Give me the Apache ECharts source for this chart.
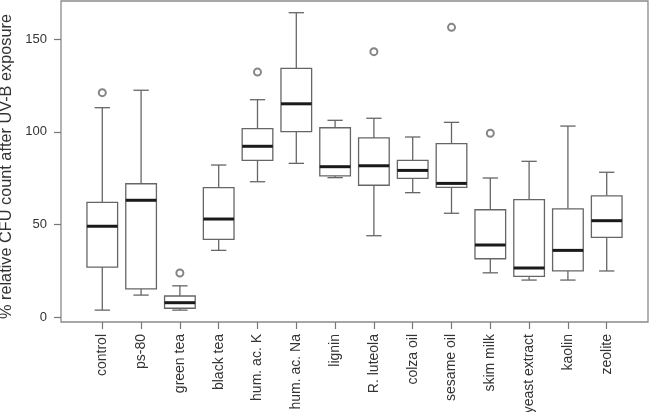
<!DOCTYPE html>
<html>
<head>
<meta charset="utf-8">
<script src="https://cdn.jsdelivr.net/npm/echarts@6/dist/echarts.min.js"></script>
<style>html,body{margin:0;padding:0;background:#fff}#c{width:650px;height:412px}</style>
</head>
<body>
<div id="c"></div>
<script>
const categories = ['control','ps-80','green tea','black tea','hum. ac. K','hum. ac. Na','lignin','R. luteola','colza oil','sesame oil','skim milk','yeast extract','kaolin','zeolite'];
const lowerWhisker = [3.9, 12.0, 3.9, 36.1, 73.1, 83.0, 75.3, 44.0, 67.2, 56.1, 24.0, 20.1, 20.1, 25.0];
const q1 =           [27.1, 15.4, 4.9, 42.0, 84.6, 100.1, 76.2, 71.2, 74.9, 70.1, 31.6, 22.1, 25.0, 43.1];
const median =       [49.1, 63.1, 7.9, 53.0, 92.2, 115.1, 81.2, 81.7, 79.2, 72.2, 39.0, 26.6, 36.1, 52.1];
const q3 =           [62.0, 72.0, 11.5, 69.9, 101.7, 134.2, 102.2, 96.7, 84.6, 93.6, 58.0, 63.4, 58.5, 65.5];
const upperWhisker = [113.0, 122.4, 17.0, 82.1, 117.3, 164.2, 106.2, 107.3, 97.2, 105.1, 75.1, 84.1, 103.1, 78.2];
const outlierCategory = [0, 2, 4, 7, 9, 10];
const outlierValue =    [121.1, 23.9, 132.2, 143.2, 156.3, 99.2];
const yTicks = [0, 50, 100, 150];
const yTitle = '% relative CFU count after UV-B exposure';

const boxData = categories.map((c, i) => [i, lowerWhisker[i], q1[i], median[i], q3[i], upperWhisker[i]]);
const outlierData = outlierCategory.map((c, i) => [c, outlierValue[i]]);
const catIdx = categories.map((c, i) => i);

const FONT = "'Liberation Sans', Arial, Helvetica, sans-serif";
const TXT = '#333';
const BOXC = '#666';

const chart = echarts.init(document.getElementById('c'), null, {renderer: 'canvas'});
chart.setOption({
  animation: false,
  backgroundColor: '#fff',
  grid: {left: 61, right: 2, top: 1, bottom: 90, containLabel: false, outerBoundsMode: 'none',
    show: true, borderColor: '#8a8a8a', borderWidth: 1.3, backgroundColor: 'transparent'},
  xAxis: {
    type: 'value', min: -1.064, max: 14.064,
    axisLine: {show: false, onZero: false},
    splitLine: {show: false},
    axisTick: {show: true, length: 7, lineStyle: {color: '#777', width: 1.2}, customValues: catIdx},
    axisLabel: {show: true, rotate: 90, margin: 12, fontSize: 14, color: TXT, fontFamily: FONT,
      customValues: catIdx, formatter: v => categories[Math.round(v)] || ''}
  },
  yAxis: {
    type: 'value', min: -2.5, max: 170.5,
    axisLine: {show: false, onZero: false},
    splitLine: {show: false},
    axisTick: {show: true, length: 7, lineStyle: {color: '#777', width: 1.2}, customValues: yTicks},
    axisLabel: {show: true, margin: 14, fontSize: 13, color: TXT, fontFamily: FONT, customValues: yTicks},
    name: yTitle, nameLocation: 'middle', nameRotate: 90, nameGap: 41,
    nameTextStyle: {fontSize: 16.3, color: TXT, fontFamily: FONT, padding: [0, 10, 0, 0]}
  },
  series: [
    {
      type: 'custom',
      data: boxData,
      encode: {x: 0, y: [1, 2, 3, 4, 5]},
      renderItem: function (params, api) {
        const x = api.value(0);
        const lo = api.coord([x, api.value(1)]);
        const b1 = api.coord([x, api.value(2)]);
        const md = api.coord([x, api.value(3)]);
        const b3 = api.coord([x, api.value(4)]);
        const hi = api.coord([x, api.value(5)]);
        const bw = api.size([0.79, 0])[0];
        const cw = bw / 2;
        const cx = lo[0];
        const ls = {stroke: BOXC, lineWidth: 1.3, fill: null};
        return {
          type: 'group',
          children: [
            {type: 'line', shape: {x1: cx, y1: lo[1], x2: cx, y2: b1[1]}, style: ls},
            {type: 'line', shape: {x1: cx, y1: b3[1], x2: cx, y2: hi[1]}, style: ls},
            {type: 'line', shape: {x1: cx - cw / 2, y1: lo[1], x2: cx + cw / 2, y2: lo[1]}, style: ls},
            {type: 'line', shape: {x1: cx - cw / 2, y1: hi[1], x2: cx + cw / 2, y2: hi[1]}, style: ls},
            {type: 'rect', shape: {x: cx - bw / 2, y: b3[1], width: bw, height: b1[1] - b3[1]}, style: {stroke: BOXC, lineWidth: 1.3, fill: '#fff'}},
            {type: 'line', shape: {x1: cx - bw / 2, y1: md[1], x2: cx + bw / 2, y2: md[1]}, style: {stroke: '#1a1a1a', lineWidth: 3}}
          ]
        };
      }
    },
    {
      type: 'scatter',
      data: outlierData,
      symbol: 'emptyCircle',
      symbolSize: 7,
      itemStyle: {color: '#666', borderColor: '#666', borderWidth: 1}
    }
  ]
});
</script>
</body>
</html>
